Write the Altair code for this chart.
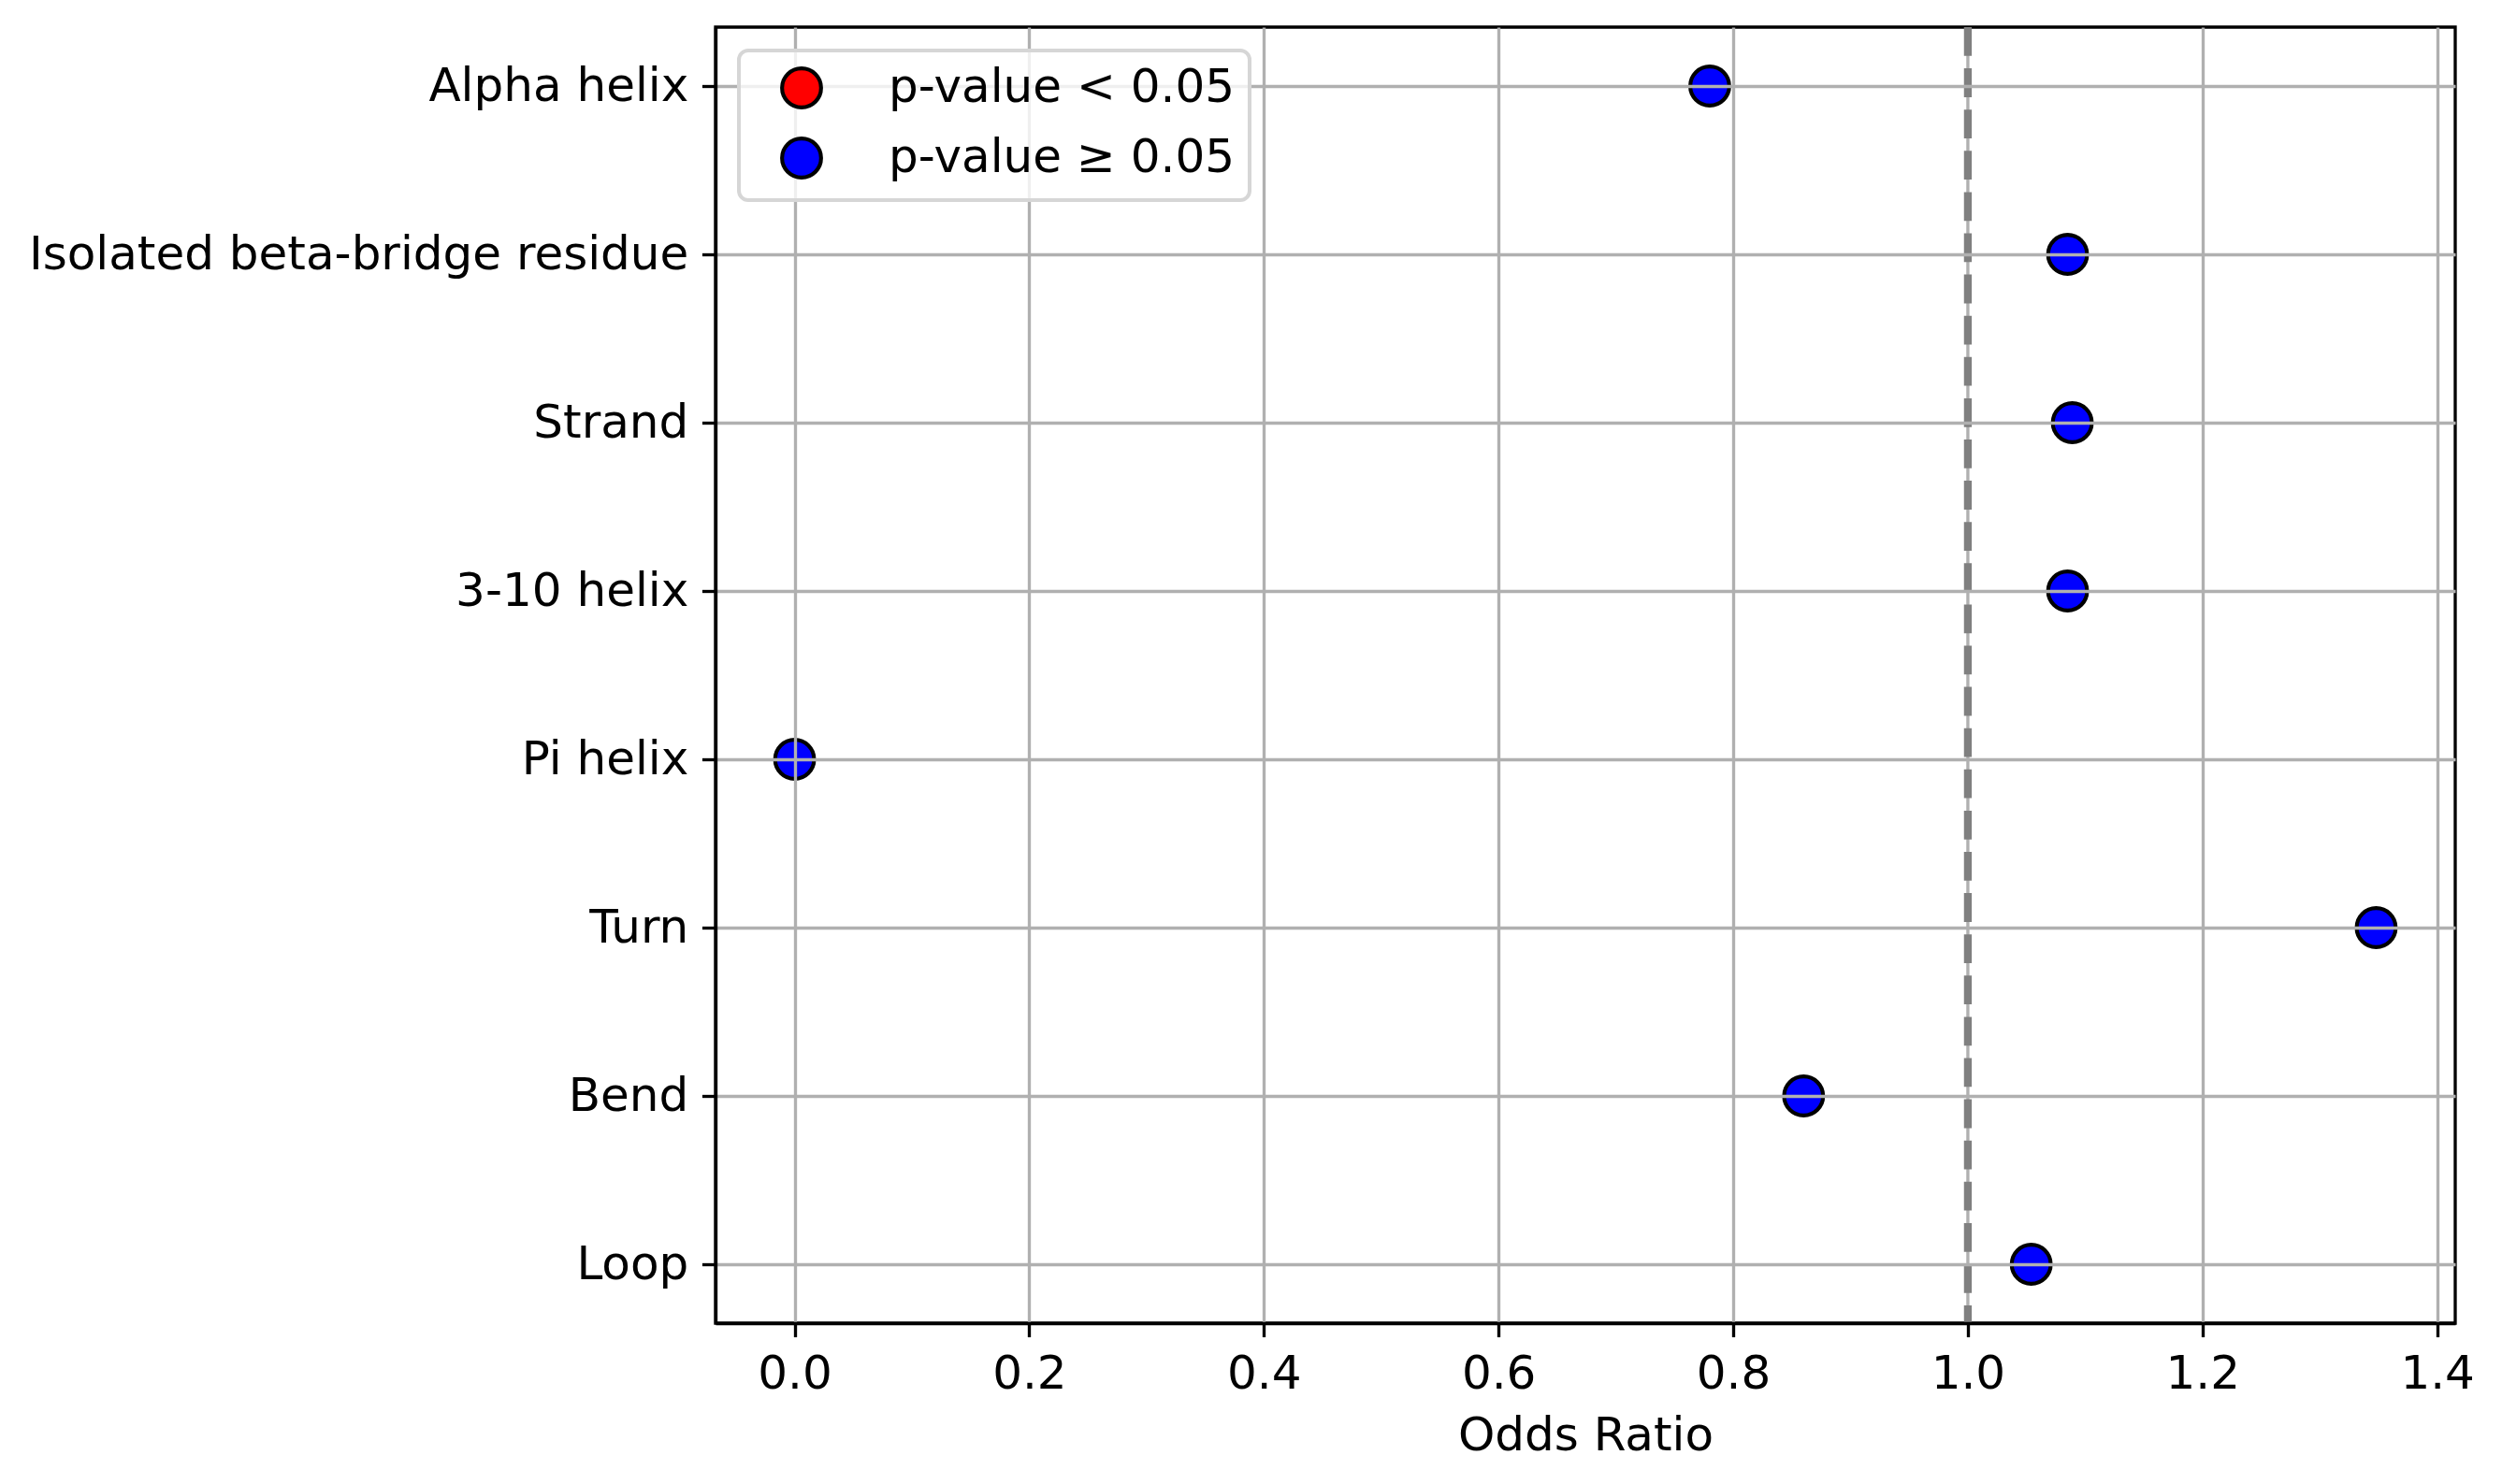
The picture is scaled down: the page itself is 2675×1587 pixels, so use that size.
import altair as alt
import pandas as pd

# ---- data ----
categories = ["Alpha helix", "Isolated beta-bridge residue", "Strand", "3-10 helix",
              "Pi helix", "Turn", "Bend", "Loop"]
odds_ratios = [0.78, 1.085, 1.089, 1.085, 0.0, 1.348, 0.86, 1.054]
significance = ["p-value ≥ 0.05", "p-value ≥ 0.05", "p-value ≥ 0.05", "p-value ≥ 0.05",
                "p-value ≥ 0.05", "p-value ≥ 0.05", "p-value ≥ 0.05", "p-value ≥ 0.05"]
legend_labels = ["p-value < 0.05", "p-value ≥ 0.05"]
legend_colors = ["red", "blue"]
x_ticks = [0.0, 0.2, 0.4, 0.6, 0.8, 1.0, 1.2, 1.4]
x_domain = [-0.0674, 1.4154]
reference_value = [1.0]

df = pd.DataFrame({"Feature": categories, "OddsRatio": odds_ratios,
                   "Significance": significance})
ref = pd.DataFrame({"OddsRatio": reference_value})

FONT = "DejaVu Sans"
GRID = "#b0b0b0"
LW = 3.33

x_scale = alt.Scale(domain=x_domain, nice=False, zero=False)
y_scale = alt.Scale(domain=categories, padding=0.35)

x_axis = alt.Axis(values=x_ticks, format=".1f", title="Odds Ratio", grid=True,
                  gridColor=GRID, gridWidth=LW,
                  gridOpacity={"condition": {"test": "datum.value == 1", "value": 0}, "value": 1},
                  labelFlush=False, labelOverlap=False, titlePadding=16, zindex=1)
y_axis = alt.Axis(title=None, grid=True, gridColor=GRID, gridWidth=LW,
                  labelLimit=1000, zindex=1)

legend = alt.Legend(
    title=None, orient="none", legendX=25, legendY=25, direction="vertical",
    symbolType="circle", symbolSize=1739, symbolStrokeColor="black",
    symbolStrokeWidth=4.17, symbolOpacity=1, symbolOffset=27,
    labelFont=FONT, labelFontSize=50, labelColor="black", labelOffset=68,
    labelLimit=1000, zindex=2,
    rowPadding=15, padding=15, fillColor="rgba(255,255,255,0.8)",
    strokeColor="#d6d6d6", cornerRadius=10,
)

points = alt.Chart(df).mark_circle(size=1739, opacity=1, stroke="black",
                                   strokeWidth=4.17).encode(
    x=alt.X("OddsRatio:Q", scale=x_scale, axis=x_axis),
    y=alt.Y("Feature:N", scale=y_scale, sort=categories, axis=y_axis),
    fill=alt.Fill("Significance:N",
                  scale=alt.Scale(domain=legend_labels, range=legend_colors),
                  legend=legend),
)

grid_rule = alt.Chart(ref).mark_rule(color=GRID, strokeWidth=LW).encode(
    x=alt.X("OddsRatio:Q", scale=x_scale))
dash_rule = alt.Chart(ref).mark_rule(color="gray", strokeWidth=8.33,
                                     strokeDash=[30.8, 13.3]).encode(
    x=alt.X("OddsRatio:Q", scale=x_scale))

chart = alt.layer(points, grid_rule, dash_rule).properties(
    width=1860, height=1386,
    autosize=alt.AutoSizeParams(type="none"),
    padding={"left": 757, "top": 21, "right": 42, "bottom": 164},
    background="white",
).configure_view(
    stroke="black", strokeWidth=LW
).configure_axis(
    labelFont=FONT, labelFontSize=50, labelColor="black",
    titleFont=FONT, titleFontSize=50, titleFontWeight="normal", titleColor="black",
    tickColor="black", tickWidth=LW, tickSize=14.6, labelPadding=14.6,
    domainColor="black", domainWidth=LW,
).configure_legend(
    strokeWidth=4
)

chart.save("out.html", embed_options={"renderer": "svg", "actions": False})
